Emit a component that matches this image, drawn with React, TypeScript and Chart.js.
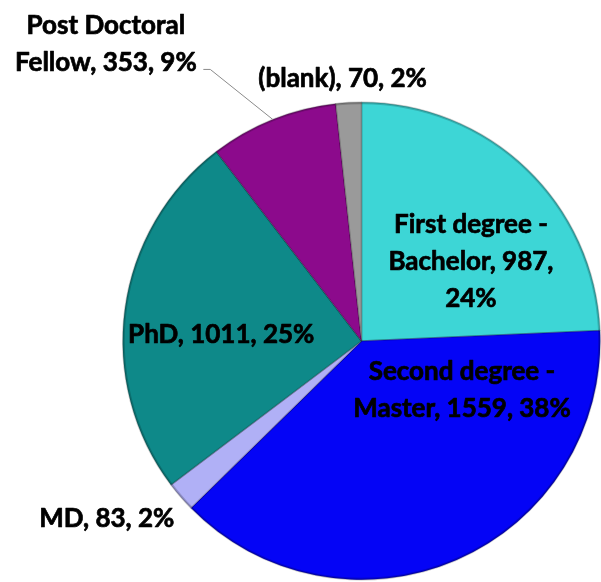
import React, { useEffect, useRef } from "react";
import { Chart, registerables } from "chart.js";

Chart.register(...registerables);

const categories = [
  "First degree - Bachelor",
  "Second degree - Master",
  "MD",
  "PhD",
  "Post Doctoral Fellow",
  "(blank)",
];
const counts = [987, 1559, 83, 1011, 353, 70];
const percents = [24, 38, 2, 25, 9, 2];
const labelLines = [
  ["First degree -", "Bachelor, 987,", "24%"],
  ["Second degree -", "Master, 1559, 38%"],
  ["MD, 83, 2%"],
  ["PhD, 1011, 25%"],
  ["Post Doctoral", "Fellow, 353, 9%"],
  ["(blank), 70, 2%"],
];
const colors = ["#3DD6D6", "#0404F6", "#B0B0F6", "#0E8989", "#8C0A8C", "#9A9A9A"];

// label anchor offsets from pie centre (in units of radius/240), first-line baseline
const labelOffsets = [
  [110, -109],
  [101, 39],
  [-256, 187],
  [-141, 2],
  [-257, -309],
  [-19, -255],
];
const LINE_H = 37;

const labelPlugin = {
  id: "sliceLabels",
  afterDatasetsDraw(chart: any) {
    const ctx = chart.ctx;
    const meta = chart.getDatasetMeta(0);
    const arcs = meta.data;
    if (!arcs.length) return;
    const cx = arcs[0].x;
    const cy = arcs[0].y;
    const r = arcs[0].outerRadius;
    const k = r / 240;
    ctx.save();
    // subtle darker rim for bevel look
    ctx.strokeStyle = "rgba(0,0,0,0.18)";
    ctx.lineWidth = 2;
    ctx.beginPath();
    ctx.arc(cx, cy, r - 1, 0, Math.PI * 2);
    ctx.stroke();
    // leader line for Post Doctoral
    const pd = arcs[4];
    const mid = (pd.startAngle + pd.endAngle) / 2;
    const ex = cx + Math.cos(mid) * r;
    const ey = cy + Math.sin(mid) * r;
    ctx.strokeStyle = "#8a8a8a";
    ctx.lineWidth = 1;
    ctx.beginPath();
    ctx.moveTo(cx - 159 * k, cy - 273 * k);
    ctx.lineTo(cx - 152 * k, cy - 273 * k);
    ctx.lineTo(ex, ey);
    ctx.stroke();

    ctx.fillStyle = "#000";
    ctx.strokeStyle = "#000";
    ctx.lineWidth = 0.7;
    ctx.lineJoin = "round";
    ctx.font = "bold 26px Lato";
    ctx.textAlign = "center";
    ctx.textBaseline = "alphabetic";
    labelLines.forEach((lines, i) => {
      const [dx, dy] = labelOffsets[i];
      lines.forEach((t, j) => {
        const x = cx + dx * k;
        const y = cy + dy * k + j * LINE_H;
        ctx.fillText(t, x, y);
        ctx.strokeText(t, x, y);
      });
    });
    ctx.restore();
  },
};

export default function App() {
  const ref = useRef<HTMLCanvasElement>(null);
  useEffect(() => {
    if (!ref.current) return;
    const chart = new Chart(ref.current, {
      type: "pie",
      data: {
        labels: categories,
        datasets: [
          {
            data: counts,
            backgroundColor: colors,
            borderColor: "rgba(0,0,0,0.22)",
            borderWidth: 1.5,
          },
        ],
      },
      options: {
        responsive: false,
        animation: false,
        layout: { padding: { left: 122, right: 0, top: 101, bottom: 1 } },
        plugins: {
          legend: { display: false },
          tooltip: { enabled: false },
        },
      },
      plugins: [labelPlugin],
    });
    return () => chart.destroy();
  }, []);
  return (
    <div style={{ position: "fixed", left: 0, top: 0, width: 601, height: 582, background: "#fff" }}>
      <canvas ref={ref} width={601} height={582} style={{ width: 601, height: 582 }} />
    </div>
  );
}
